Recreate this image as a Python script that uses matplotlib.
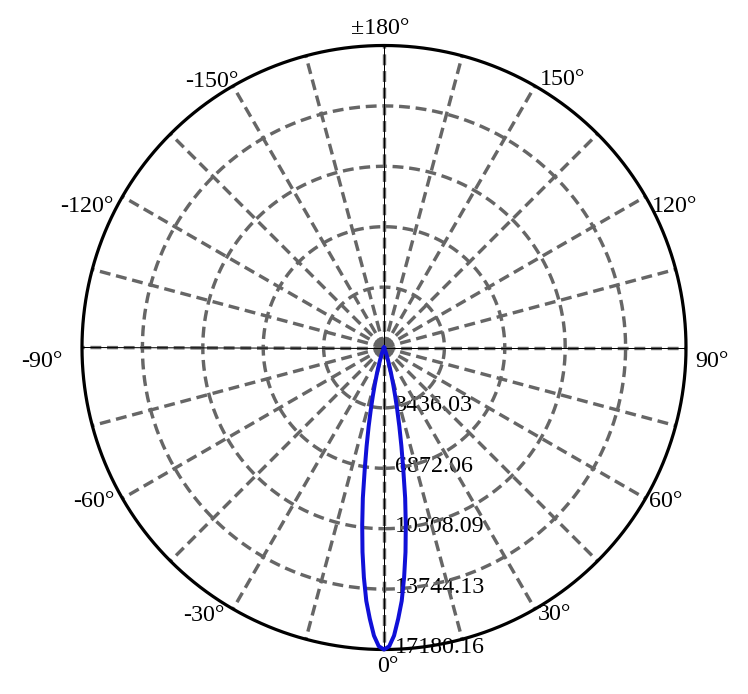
import numpy as np
import matplotlib
matplotlib.use("Agg")
import matplotlib.pyplot as plt

# ---- data ----
angles_deg = [-180, -90, -60, -40, -30, -25, -22, -20, -19, -18, -17, -16, -15, -14, -13, -12, -11, -10,
              -9, -8, -7, -6, -5, -4, -3, -2, -1, 0, 1, 2, 3, 4, 5, 6, 7, 8, 9, 10, 11, 12, 13, 14, 15,
              16, 17, 18, 19, 20, 22, 25, 30, 40, 60, 90, 180]
intensity = [0, 0, 0, 2, 8, 35, 120, 280, 420, 610, 870, 1200, 1620, 2160, 2820, 3620, 4580, 5700,
             7000, 8650, 10170, 11700, 13130, 14450, 15450, 16400, 17000, 17180, 17000, 16400, 15450,
             14450, 13130, 11700, 10170, 8650, 7000, 5700, 4580, 3620, 2820, 2160, 1620, 1200, 870,
             610, 420, 280, 120, 35, 8, 2, 0, 0, 0]
r_ticks = [3436.03, 6872.06, 10308.09, 13744.13, 17180.16]
r_labels = ["3436.03", "6872.06", "10308.09", "13744.13", "17180.16"]
theta_ticks = [180, 150, 120, 90, 60, 30, 0, -30, -60, -90, -120, -150]
theta_labels = ["±180°", "150°", "120°", "90°", "60°", "30°", "0°", "-30°", "-60°", "-90°", "-120°", "-150°"]

# label pixel offsets (dx right, dy down) and alignment
label_style = {
    180: (-4, -17, "center"), 150: (5, -6, "left"), 120: (6, 10, "left"), 90: (9, 14, "left"),
    60: (3, 3, "left"), 30: (3, 5, "left"), 0: (4, 17, "center"), -30: (-8, 6, "right"),
    -60: (-8, 3, "right"), -90: (-20, 14, "right"), -120: (-9, 10, "right"), -150: (5, -4, "right"),
}

W, H, DPI = 748, 694, 100
fig = plt.figure(figsize=(W / DPI, H / DPI), dpi=DPI)
cx, cy, R = 384, 347.5, 302
ax = fig.add_axes([(cx - R) / W, (H - cy - R) / H, 2 * R / W, 2 * R / H], projection="polar")
ax.set_theta_zero_location("S")
ax.set_theta_direction(1)
rmax = r_ticks[-1]
ax.set_ylim(0, rmax)
ax.grid(False)
ax.set_xticks([])
ax.set_yticks([])
ax.spines["polar"].set_visible(False)

px = 72 / DPI
grid_col = "#666666"
grid_lw = 3.4 * px
dash = (3.2, 1.7)
font = "Liberation Serif"
fs = 24 * px

# radial text labels (under grid)
for rv, lab in zip(r_ticks, r_labels):
    ax.annotate(lab, xy=(0, rv), xytext=(11, 2), textcoords="offset pixels",
                ha="left", va="center", fontsize=fs, family=font, color="black", zorder=1,
                annotation_clip=False)

# spokes
for a in range(0, 360, 15):
    t = np.deg2rad(a)
    ax.plot([t, t], [0, rmax], color=grid_col, lw=grid_lw, ls=(0, dash), zorder=2,
            dash_capstyle="butt")
# inner circles
tt = np.linspace(0, 2 * np.pi, 721)
for rv in r_ticks[:-1]:
    ax.plot(tt, np.full_like(tt, rv), color=grid_col, lw=grid_lw, ls=(0, dash), zorder=2,
            dash_capstyle="butt")
# thin black axis lines
for a in (0, 90):
    t = np.deg2rad(a)
    ax.plot([t, t], [0, rmax], color="black", lw=1 * px, zorder=3)
    ax.plot([t + np.pi, t + np.pi], [0, rmax], color="black", lw=1 * px, zorder=3)
# outer circle
ax.plot(tt, np.full_like(tt, rmax), color="black", lw=3.2 * px, zorder=4, clip_on=False)

# curve
th = np.deg2rad(np.array(angles_deg, dtype=float))
ax.plot(th, intensity, color="#1010d8", lw=4 * px, zorder=5, clip_on=False)

# angle labels
for a, lab in zip(theta_ticks, theta_labels):
    dx, dy, ha = label_style[a]
    ax.annotate(lab, xy=(np.deg2rad(a), rmax), xytext=(dx, -dy), textcoords="offset pixels",
                ha=ha, va="center", fontsize=fs, family=font, color="black",
                annotation_clip=False)

fig.savefig("out.png", dpi=DPI)
